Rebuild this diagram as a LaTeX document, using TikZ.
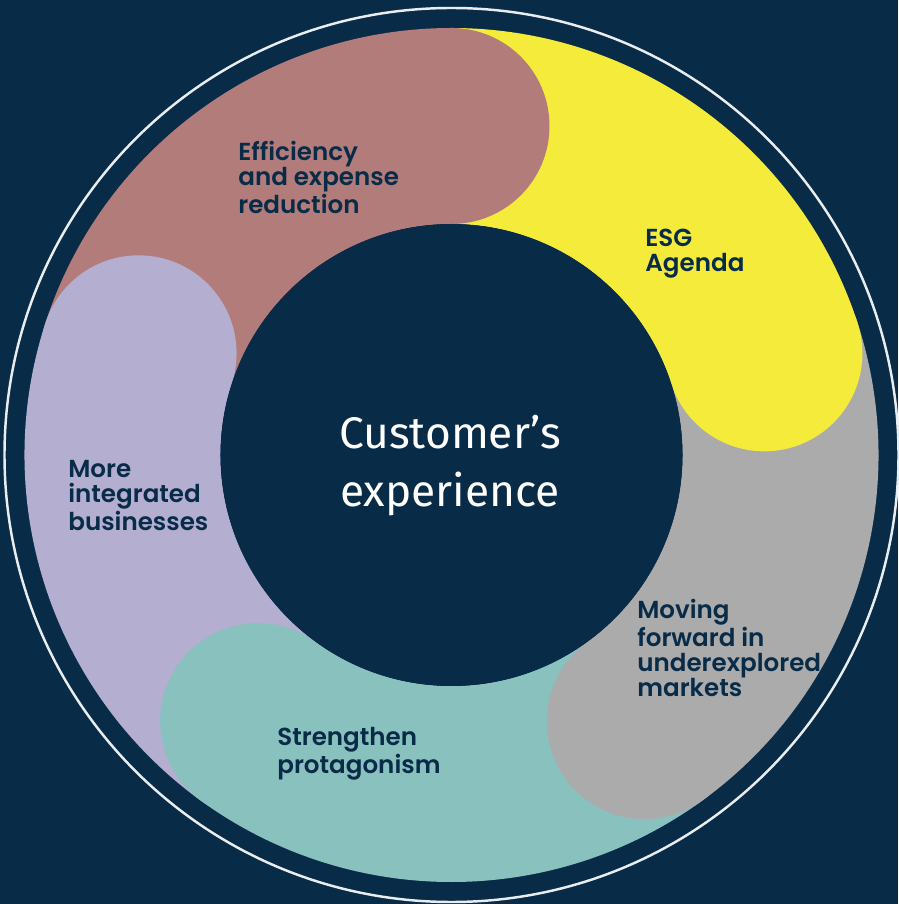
\documentclass[tikz,border=0pt]{standalone}
\usepackage{fontspec}
\setmainfont{Fira Sans}
\newfontfamily\goalfont{Poppins}[BoldFont={Poppins SemiBold}]
\definecolor{navy}{HTML}{082B48}
\definecolor{ringwhite}{HTML}{E9EDF0}
\definecolor{rosewood}{HTML}{B27C7B}
\definecolor{lemon}{HTML}{F5EB3B}
\definecolor{stone}{HTML}{ABABAB}
\definecolor{seafoam}{HTML}{88C1BE}
\definecolor{lilac}{HTML}{B4AED1}

\begin{document}
\begin{tikzpicture}[scale=0.02,
  goal/.style={text=navy, font=\goalfont\bfseries\fontsize{14}{14.2}\selectfont,
    align=left, anchor=north west, inner sep=0pt}]
\useasboundingbox (-451.5,-449) rectangle (446.5,455);
\fill[navy] (-451.5,-449) rectangle (446.5,455);
\draw[ringwhite, line width=1.4pt] (0,0) circle (447);

\fill[rosewood] (90:427) arc[start angle=90, end angle=162, radius=427] -- (162:231) arc[start angle=162, end angle=90, radius=231] -- cycle;
\fill[lemon] (18:427) arc[start angle=18, end angle=90, radius=427] -- (90:231) arc[start angle=90, end angle=18, radius=231] -- cycle;
\fill[stone] (-54:427) arc[start angle=-54, end angle=18, radius=427] -- (18:231) arc[start angle=18, end angle=-54, radius=231] -- cycle;
\fill[seafoam] (-126:427) arc[start angle=-126, end angle=-54, radius=427] -- (-54:231) arc[start angle=-54, end angle=-126, radius=231] -- cycle;
\fill[lilac] (162:427) arc[start angle=162, end angle=234, radius=427] -- (234:231) arc[start angle=234, end angle=162, radius=231] -- cycle;

\fill[rosewood] (90:329) circle (98);
\fill[lemon] (18:329) circle (98);
\fill[stone] (-54:329) circle (98);
\fill[seafoam] (-126:329) circle (98);
\fill[lilac] (162:329) circle (98);

\fill[navy] (0,0) circle (231);

\node[text=white, align=center, inner sep=0pt, font=\fontsize{25.2}{33}\selectfont] (experience) at (-1.5,-10.5) {Customer’s\\experience};

\node[goal] (efficiency) at (-213.5,314) {Efficiency\\and expense\\reduction};
\node[goal] (esg) at (193.5,226) {ESG\\Agenda};
\node[goal] (markets) at (185.5,-144) {Moving\\forward in\\underexplored\\markets};
\node[goal] (protagonism) at (-174.5,-272) {Strengthen\\protagonism};
\node[goal] (businesses) at (-383.5,-5) {More\\integrated\\businesses};
\end{tikzpicture}
\end{document}
